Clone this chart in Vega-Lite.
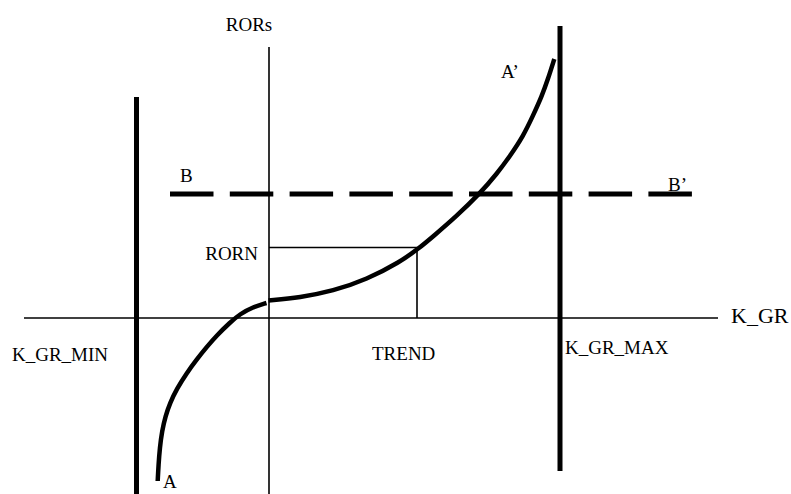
{
  "$schema": "https://vega.github.io/schema/vega-lite/v6.json",
  "width": 791,
  "height": 494,
  "padding": 0,
  "autosize": {"type": "none"},
  "background": "white",
  "config": {"view": {"stroke": null}},
  "datasets": {
    "segments": [
      {"name": "K_GR axis", "kind": "thin", "x1": -2.45, "y1": 0, "x2": 4.49, "y2": 0},
      {"name": "RORs axis", "kind": "thin", "x1": 0, "y1": 2.71, "x2": 0, "y2": -1.76},
      {"name": "RORN level", "kind": "thin", "x1": 0, "y1": 0.705, "x2": 1.48, "y2": 0.705},
      {"name": "TREND drop", "kind": "thin", "x1": 1.48, "y1": 0.705, "x2": 1.48, "y2": 0},
      {"name": "K_GR_MIN bound", "kind": "thick", "x1": -1.325, "y1": 2.21, "x2": -1.325, "y2": -1.76},
      {"name": "K_GR_MAX bound", "kind": "thick", "x1": 2.91, "y1": 2.92, "x2": 2.91, "y2": -1.53},
      {"name": "B-B'", "kind": "dashed", "x1": -0.99, "y1": 1.24, "x2": 4.23, "y2": 1.24}
    ],
    "curve": [
      {"piece": "left", "order": 1, "k": -1.113, "r": -1.63},
      {"piece": "left", "order": 2, "k": -1.105, "r": -1.47},
      {"piece": "left", "order": 3, "k": -1.092, "r": -1.3},
      {"piece": "left", "order": 4, "k": -1.07, "r": -1.13},
      {"piece": "left", "order": 5, "k": -1.035, "r": -0.98},
      {"piece": "left", "order": 6, "k": -0.99, "r": -0.85},
      {"piece": "left", "order": 7, "k": -0.923, "r": -0.71},
      {"piece": "left", "order": 8, "k": -0.823, "r": -0.55},
      {"piece": "left", "order": 9, "k": -0.723, "r": -0.415},
      {"piece": "left", "order": 10, "k": -0.623, "r": -0.29},
      {"piece": "left", "order": 11, "k": -0.523, "r": -0.175},
      {"piece": "left", "order": 12, "k": -0.39, "r": -0.045},
      {"piece": "left", "order": 13, "k": -0.29, "r": 0.04},
      {"piece": "left", "order": 14, "k": -0.16, "r": 0.11},
      {"piece": "left", "order": 15, "k": -0.025, "r": 0.15},
      {"piece": "right", "order": 1, "k": -0.005, "r": 0.175},
      {"piece": "right", "order": 2, "k": 0.31, "r": 0.205},
      {"piece": "right", "order": 3, "k": 0.64, "r": 0.27},
      {"piece": "right", "order": 4, "k": 0.977, "r": 0.385},
      {"piece": "right", "order": 5, "k": 1.31, "r": 0.56},
      {"piece": "right", "order": 6, "k": 1.49, "r": 0.69},
      {"piece": "right", "order": 7, "k": 1.64, "r": 0.815},
      {"piece": "right", "order": 8, "k": 1.877, "r": 1.02},
      {"piece": "right", "order": 9, "k": 2.11, "r": 1.247},
      {"piece": "right", "order": 10, "k": 2.277, "r": 1.44},
      {"piece": "right", "order": 11, "k": 2.41, "r": 1.62},
      {"piece": "right", "order": 12, "k": 2.543, "r": 1.82},
      {"piece": "right", "order": 13, "k": 2.643, "r": 2.03},
      {"piece": "right", "order": 14, "k": 2.727, "r": 2.215},
      {"piece": "right", "order": 15, "k": 2.79, "r": 2.39},
      {"piece": "right", "order": 16, "k": 2.853, "r": 2.59}
    ],
    "labels": [
      {"text": "RORs", "role": "center", "x": -0.2, "y": 2.87},
      {"text": "B", "role": "left", "x": -0.89, "y": 1.36},
      {"text": "B’", "role": "left", "x": 3.99, "y": 1.27},
      {"text": "A’", "role": "left", "x": 2.32, "y": 2.4},
      {"text": "A", "role": "left", "x": -1.06, "y": -1.7},
      {"text": "RORN", "role": "right", "x": -0.11, "y": 0.58},
      {"text": "K_GR_MIN", "role": "left", "x": -2.57, "y": -0.43},
      {"text": "TREND", "role": "left", "x": 1.03, "y": -0.42},
      {"text": "K_GR_MAX", "role": "left", "x": 2.96, "y": -0.36},
      {"text": "K_GR", "role": "axis", "x": 4.62, "y": -0.05}
    ]
  },
  "resolve": {"scale": {"x": "shared", "y": "shared"}},
  "layer": [
    {
      "data": {"name": "segments"},
      "transform": [{"filter": "datum.kind === 'thin'"}],
      "mark": {"type": "rule", "color": "black", "strokeWidth": 1.6},
      "encoding": {
        "x": {"field": "x1", "type": "quantitative", "scale": {"domain": [-2.69, 5.22], "nice": false, "zero": false}, "axis": null},
        "x2": {"field": "x2"},
        "y": {"field": "y1", "type": "quantitative", "scale": {"domain": [-1.76, 3.18], "nice": false, "zero": false}, "axis": null},
        "y2": {"field": "y2"}
      }
    },
    {
      "data": {"name": "segments"},
      "transform": [{"filter": "datum.kind === 'thick'"}],
      "mark": {"type": "rule", "color": "black", "strokeWidth": 5},
      "encoding": {
        "x": {"field": "x1", "type": "quantitative"},
        "x2": {"field": "x2"},
        "y": {"field": "y1", "type": "quantitative"},
        "y2": {"field": "y2"}
      }
    },
    {
      "data": {"name": "segments"},
      "transform": [{"filter": "datum.kind === 'dashed'"}],
      "mark": {"type": "rule", "color": "black", "strokeWidth": 5, "strokeDash": [43.5, 16.3]},
      "encoding": {
        "x": {"field": "x1", "type": "quantitative"},
        "x2": {"field": "x2"},
        "y": {"field": "y1", "type": "quantitative"},
        "y2": {"field": "y2"}
      }
    },
    {
      "data": {"name": "curve"},
      "mark": {"type": "line", "color": "black", "strokeWidth": 4.5, "interpolate": "basis", "strokeCap": "butt"},
      "encoding": {
        "x": {"field": "k", "type": "quantitative"},
        "y": {"field": "r", "type": "quantitative"},
        "detail": {"field": "piece"},
        "order": {"field": "order"}
      }
    },
    {
      "data": {"name": "labels"},
      "transform": [{"filter": "datum.role === 'left'"}],
      "mark": {"type": "text", "font": "Liberation Serif", "fontSize": 19, "align": "left", "baseline": "alphabetic", "color": "black"},
      "encoding": {
        "x": {"field": "x", "type": "quantitative"},
        "y": {"field": "y", "type": "quantitative"},
        "text": {"field": "text"}
      }
    },
    {
      "data": {"name": "labels"},
      "transform": [{"filter": "datum.role === 'center'"}],
      "mark": {"type": "text", "font": "Liberation Serif", "fontSize": 19, "align": "center", "baseline": "alphabetic", "color": "black"},
      "encoding": {
        "x": {"field": "x", "type": "quantitative"},
        "y": {"field": "y", "type": "quantitative"},
        "text": {"field": "text"}
      }
    },
    {
      "data": {"name": "labels"},
      "transform": [{"filter": "datum.role === 'right'"}],
      "mark": {"type": "text", "font": "Liberation Serif", "fontSize": 19, "align": "right", "baseline": "alphabetic", "color": "black"},
      "encoding": {
        "x": {"field": "x", "type": "quantitative"},
        "y": {"field": "y", "type": "quantitative"},
        "text": {"field": "text"}
      }
    },
    {
      "data": {"name": "labels"},
      "transform": [{"filter": "datum.role === 'axis'"}],
      "mark": {"type": "text", "font": "Liberation Serif", "fontSize": 22, "align": "left", "baseline": "alphabetic", "color": "black"},
      "encoding": {
        "x": {"field": "x", "type": "quantitative"},
        "y": {"field": "y", "type": "quantitative"},
        "text": {"field": "text"}
      }
    }
  ]
}
